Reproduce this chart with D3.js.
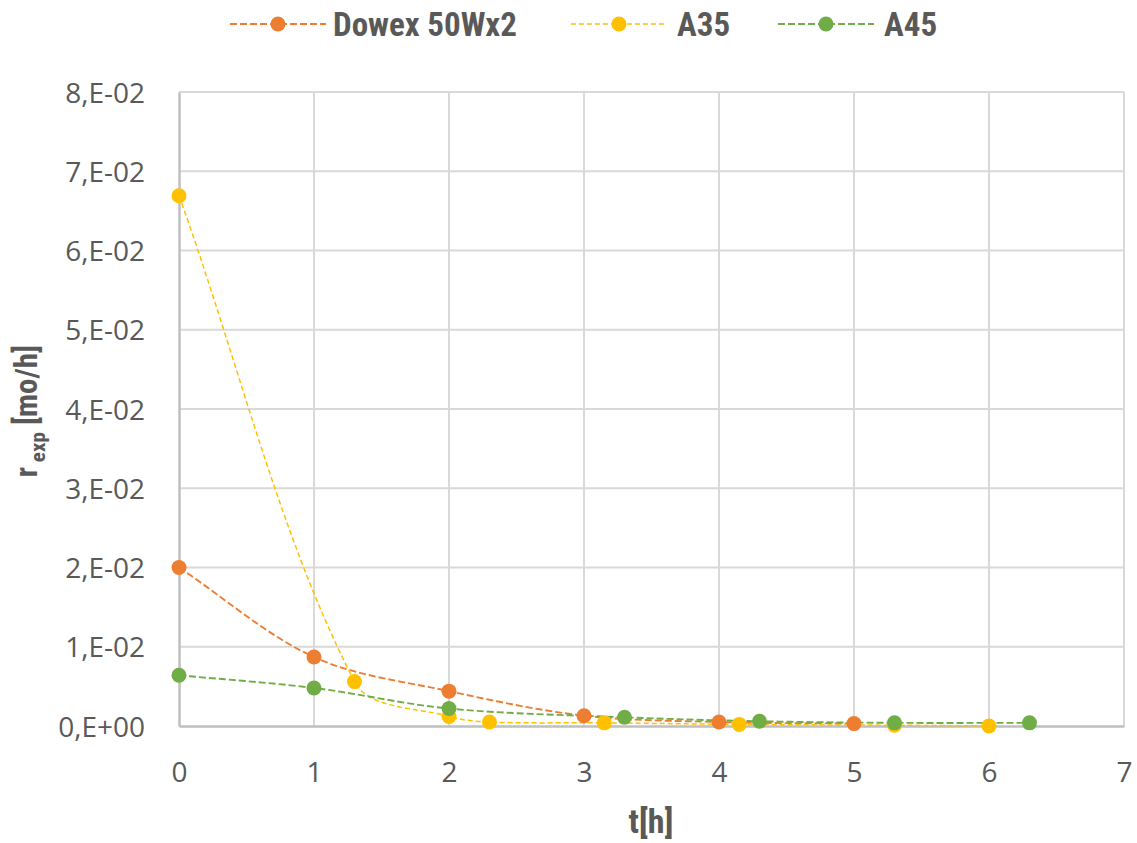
<!DOCTYPE html>
<html><head><meta charset="utf-8">
<script src="https://cdn.jsdelivr.net/npm/d3@7"></script>
<style>
body{margin:0;background:#fff;}
svg{display:block;}
</style></head>
<body>
<svg id="chart" width="1137" height="843"></svg>
<script>
// ---- data ----
const xTicks = [0,1,2,3,4,5,6,7];
const yTicks = [0,0.01,0.02,0.03,0.04,0.05,0.06,0.07,0.08];
const yTickLabels = ["0,E+00","1,E-02","2,E-02","3,E-02","4,E-02","5,E-02","6,E-02","7,E-02","8,E-02"];
const dowexT = [0,1,2,3,4,5];
const dowexR = [0.0200,0.0087,0.0044,0.0013,0.0005,0.0003];
const a35T = [0,1.3,2,2.3,3.15,4.15,5.3,6];
const a35R = [0.0669,0.0056,0.0012,0.0005,0.0004,0.0002,0.0001,0.0000];
const a45T = [0,1,2,3.3,4.3,5.3,6.3];
const a45R = [0.0064,0.0048,0.0022,0.0011,0.0006,0.0004,0.0004];
const seriesNames = ["Dowex 50Wx2","A35","A45"];
const seriesColors = ["#ED7D31","#FFC000","#70AD47"];

const series = [
  {name:seriesNames[0], color:seriesColors[0], t:dowexT, r:dowexR, w:1.9, dash:"7,3"},
  {name:seriesNames[1], color:seriesColors[1], t:a35T, r:a35R, w:1.5, dash:"5,3"},
  {name:seriesNames[2], color:seriesColors[2], t:a45T, r:a45R, w:1.9, dash:"7,3"}
];

const svg = d3.select("#chart");
const m = {left:179, right:1124, top:92, bottom:726};
const x = d3.scaleLinear().domain([0,7]).range([m.left,m.right]);
const y = d3.scaleLinear().domain([0,0.08]).range([m.bottom,m.top]);
const textCol = "#595959";
const tickFont = "'Open Sans', 'Liberation Sans', sans-serif";
const boldFont = "'Liberation Sans Narrow', 'Roboto Condensed', 'Liberation Sans', sans-serif";

// grid
svg.append("g").selectAll("line").data(yTicks.slice(1)).join("line")
  .attr("x1",m.left).attr("x2",m.right).attr("y1",d=>y(d)).attr("y2",d=>y(d))
  .attr("stroke","#D9D9D9").attr("stroke-width",2);
svg.append("g").selectAll("line").data(xTicks.slice(1)).join("line")
  .attr("x1",d=>x(d)).attr("x2",d=>x(d)).attr("y1",m.top).attr("y2",m.bottom)
  .attr("stroke","#D9D9D9").attr("stroke-width",2);

// axes
const xAxis = svg.append("g").attr("transform",`translate(0,${m.bottom})`)
  .call(d3.axisBottom(x).tickValues(xTicks).tickSize(0).tickPadding(36).tickFormat(d3.format("d")));
const yAxis = svg.append("g").attr("transform",`translate(${m.left},0)`)
  .call(d3.axisLeft(y).tickValues(yTicks).tickSize(0).tickPadding(34).tickFormat((d,i)=>yTickLabels[i]));
[xAxis,yAxis].forEach(a=>{
  a.select(".domain").attr("stroke","#BFBFBF").attr("stroke-width",2.5);
  a.selectAll("text").attr("font-family",tickFont).attr("font-size",28).attr("fill",textCol);
});
yAxis.selectAll("text").attr("dy","0.36em");
xAxis.selectAll("text").attr("dy","0.71em");

// Excel-like smoothing: cubic Bezier with chord-length-weighted tangents
function smoothPath(pts){
  const p = d3.path();
  const n = pts.length;
  const dist = (a,b)=>Math.hypot(b[0]-a[0], b[1]-a[1]);
  p.moveTo(pts[0][0], pts[0][1]);
  for(let i=0;i<n-1;i++){
    const P0 = pts[Math.max(0,i-1)], P1 = pts[i], P2 = pts[i+1], P3 = pts[Math.min(n-1,i+2)];
    const d01 = dist(P0,P1), d12 = dist(P1,P2), d23 = dist(P2,P3);
    const s1 = d12/((d01+d12)||1)/3, s2 = d12/((d12+d23)||1)/3;
    const c1 = [P1[0]+(P2[0]-P0[0])*s1, P1[1]+(P2[1]-P0[1])*s1];
    const c2 = [P2[0]-(P3[0]-P1[0])*s2, P2[1]-(P3[1]-P1[1])*s2];
    p.bezierCurveTo(c1[0],c1[1],c2[0],c2[1],P2[0],P2[1]);
  }
  return p.toString();
}

// lines
series.forEach(s=>{
  const pts = s.t.map((t,i)=>[x(t), y(s.r[i])]);
  svg.append("path").attr("d",smoothPath(pts)).attr("fill","none")
    .attr("stroke",s.color).attr("stroke-width",s.w).attr("stroke-dasharray",s.dash);
});
series.forEach(s=>{
  const pts = s.t.map((t,i)=>[t,s.r[i]]);
  svg.append("g").selectAll("circle").data(pts).join("circle")
    .attr("cx",d=>x(d[0])).attr("cy",d=>y(d[1])).attr("r",7.5).attr("fill",s.color);
});

// legend
const legendPos = [
  {lx:230, tx:333},
  {lx:571, tx:677},
  {lx:778, tx:884}
];
series.forEach((s,i)=>{
  const g = svg.append("g");
  const lx = legendPos[i].lx;
  g.append("line").attr("x1",lx).attr("x2",lx+96).attr("y1",24).attr("y2",24)
    .attr("stroke",s.color).attr("stroke-width",s.w).attr("stroke-dasharray",s.dash);
  g.append("circle").attr("cx",lx+48).attr("cy",24).attr("r",7.5).attr("fill",s.color);
  g.append("text").attr("x",legendPos[i].tx).attr("y",36).text(s.name)
    .attr("font-family",boldFont).attr("font-weight","bold").attr("font-size",33).attr("fill",textCol);
});

// axis titles
svg.append("text").attr("x",651).attr("y",833).attr("text-anchor","middle")
  .attr("font-family",boldFont).attr("font-weight","bold").attr("font-size",34).attr("fill",textCol)
  .text("t[h]");
const yt = svg.append("text").attr("transform","translate(37,411) rotate(-90)").attr("text-anchor","middle")
  .attr("font-family",boldFont).attr("font-weight","bold").attr("font-size",31).attr("fill",textCol);
yt.append("tspan").text("r");
yt.append("tspan").attr("font-size",21).attr("dy",8).text(" exp");
yt.append("tspan").attr("dy",-8).text(" [mo/h]");
</script>
</body></html>
